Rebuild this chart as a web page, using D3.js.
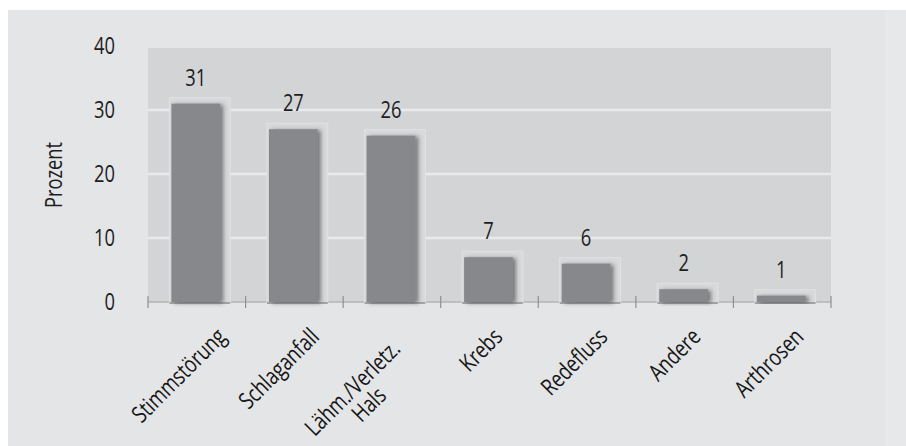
<!DOCTYPE html>
<html><head><meta charset="utf-8">
<script src="https://cdn.jsdelivr.net/npm/d3@7"></script>
<style>body{margin:0;background:#fff}svg{display:block}</style>
</head><body>
<svg id="c" width="906" height="446"></svg>
<script>
const categories = ["Stimmstörung","Schlaganfall","Lähm./Verletz.\nHals","Krebs","Redefluss","Andere","Arthrosen"];
const values = [31,27,26,7,6,2,1];
const yTicks = [0,10,20,30,40];
const yTitle = "Prozent";

const FONT = "'Open Sans', 'Noto Sans', sans-serif";
const FS = 23.5, SX = 0.78;
const svg = d3.select("#c");
const plot = {left:148, right:831, top:48, bottom:302};

const defs = svg.append("defs");
defs.append("filter").attr("id","sh").attr("x","-30%").attr("y","-30%").attr("width","170%").attr("height","160%")
  .append("feDropShadow").attr("dx",3).attr("dy",1).attr("stdDeviation",2)
  .attr("flood-color","#333").attr("flood-opacity",0.6);

// backgrounds
svg.append("rect").attr("x",0).attr("y",0).attr("width",906).attr("height",446).attr("fill","#fff");
svg.append("rect").attr("x",8).attr("y",10).attr("width",877).attr("height",436).attr("fill","#e4e5e7");
svg.append("rect").attr("x",885).attr("y",10).attr("width",21).attr("height",436).attr("fill","#e7e8ea");

const x = d3.scaleBand().domain(categories).range([plot.left, plot.right]).paddingInner(0.5).paddingOuter(0.25);
const y = d3.scaleLinear().domain([0,40]).range([plot.bottom, 46]);
const step = x.step(), bw = x.bandwidth();

svg.append("rect").attr("x",plot.left).attr("y",plot.top).attr("width",plot.right-plot.left)
  .attr("height",plot.bottom-plot.top).attr("fill","#d3d4d6");

// gridlines
svg.append("g").selectAll("line").data(yTicks.filter(d=>d>0 && d<40)).join("line")
  .attr("x1",plot.left).attr("x2",plot.right).attr("y1",d=>y(d)).attr("y2",d=>y(d))
  .attr("stroke","#e9eaec").attr("stroke-width",2.5);

// axis line
svg.append("line").attr("x1",plot.left).attr("x2",plot.right).attr("y1",plot.bottom).attr("y2",plot.bottom)
  .attr("stroke","#b3b4b6").attr("stroke-width",1.5);

const data = categories.map((c,i)=>({c, v:values[i]}));
const bars = svg.append("g");
bars.selectAll("rect.frame").data(data).join("rect").attr("class","frame")
  .attr("x",d=>x(d.c)-3).attr("width",bw+12)
  .attr("y",d=>y(d.v)-6).attr("height",d=>plot.bottom-y(d.v)+7)
  .attr("fill","#d8d9db").attr("stroke","#e1e2e4").attr("stroke-width",1);
bars.selectAll("line.fb").data(data).join("line").attr("class","fb")
  .attr("x1",d=>x(d.c)-3).attr("x2",d=>x(d.c)+bw+9)
  .attr("y1",plot.bottom+1).attr("y2",plot.bottom+1)
  .attr("stroke","#a3a4a6").attr("stroke-width",2);
bars.selectAll("rect.bar").data(data).join("rect").attr("class","bar")
  .attr("x",d=>x(d.c)-1).attr("width",bw)
  .attr("y",d=>y(d.v)).attr("height",d=>plot.bottom-y(d.v))
  .attr("fill","#87888c").attr("filter","url(#sh)");

// ticks at category boundaries
const bounds = categories.map((c,i)=>plot.left + i*step);
bounds.push(plot.right);
svg.append("g").selectAll("line").data(bounds).join("line")
  .attr("x1",d=>d).attr("x2",d=>d).attr("y1",plot.bottom-6).attr("y2",plot.bottom+6)
  .attr("stroke","#8e8f93").attr("stroke-width",1.2);

// value labels
svg.append("g").selectAll("text").data(data).join("text")
  .attr("transform",d=>`translate(${x(d.c)+bw/2-1},${y(d.v)-18}) scale(${SX},1)`)
  .attr("text-anchor","middle").attr("font-family",FONT).attr("font-size",FS).attr("fill","#1e1e1e")
  .text(d=>d.v);

// y tick labels
svg.append("g").selectAll("text").data(yTicks).join("text")
  .attr("transform",d=>`translate(115,${y(d)}) scale(${SX},1)`)
  .attr("dy","0.36em").attr("text-anchor","end").attr("font-family",FONT).attr("font-size",FS).attr("fill","#1e1e1e")
  .text(d=>d);

// y title
svg.append("text").attr("transform",`translate(62,${(plot.top+plot.bottom)/2}) rotate(-90) scale(${SX},1)`)
  .attr("text-anchor","middle").attr("font-family",FONT).attr("font-size",FS).attr("fill","#1e1e1e").text(yTitle);

// x labels (rotated -45)
const lineH = 23, capH = 16;
categories.forEach(c=>{
  const lines = c.split("\n");
  const g = svg.append("g");
  const inner = g.append("g").attr("transform",`scale(${SX},1)`);
  const ts = lines.map(l=>inner.append("text").attr("text-anchor","middle")
    .attr("font-family",FONT).attr("font-size",FS).attr("fill","#161616").text(l));
  const wv = d3.max(ts, t=>t.node().getComputedTextLength())*SX;
  const hb = capH + (lines.length-1)*lineH;
  ts.forEach((t,i)=>t.attr("x",0).attr("y",-hb/2 + capH + i*lineH));
  const hh = (wv+hb)*0.7071/2;
  const cx = x(c)+bw/2;
  const extra = lines.length-1;
  g.attr("transform",`translate(${cx-0.37*hh-10*extra},${327+hh+12*extra}) rotate(-45)`);
});
</script>
</body></html>
